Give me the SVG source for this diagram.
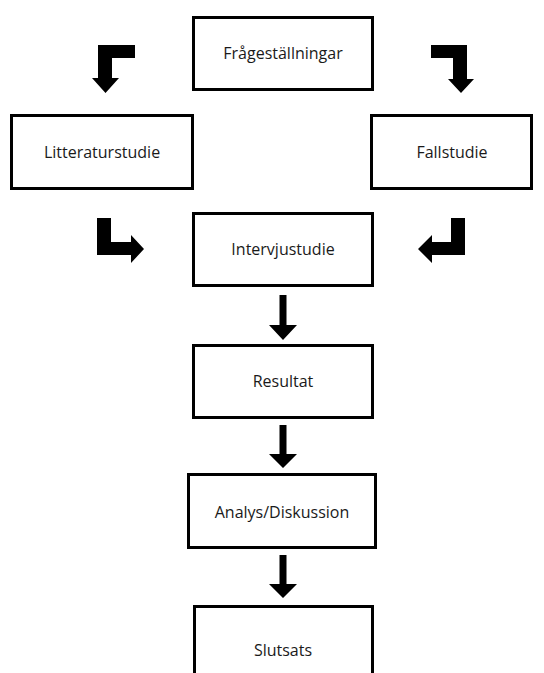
<svg xmlns="http://www.w3.org/2000/svg" width="544" height="673" viewBox="0 0 544 673">
<style>
.box{fill:#fff;stroke:#000;stroke-width:3}
.lbl{font-family:"Open Sans","Liberation Sans",sans-serif;font-size:16px;fill:#1a1a1a;text-anchor:middle}
.arr{fill:#000;stroke:none}
</style>
<rect width="544" height="673" fill="#fff"/>
<g id="connectors">
<path class="arr" d="M135,45 H98 V78 H92 L105.5,93 L119,78 H112 V58 H135 Z"/>
<path class="arr" d="M431,45 H467 V79 H474 L461,93 L448,79 H453 V58 H431 Z"/>
<path class="arr" d="M97,218 H111 V242 H131 V235 L144,249 L131,263 V255 H97 Z"/>
<path class="arr" d="M465,218 H451 V242 H432 V235 L418,249 L432,263 V255 H465 Z"/>
<path class="arr" d="M279.5,295 H286.5 V325 H297 L283,340 L269,325 H279.5 Z"/>
<path class="arr" d="M279.5,425 H286.5 V454 H297 L283,468 L269,454 H279.5 Z"/>
<path class="arr" d="M279.5,555 H286.5 V584 H297 L283,598 L269,584 H279.5 Z"/>
</g>
<g id="fragestallningar"><rect class="box" x="193.5" y="17.5" width="179" height="72"/><text class="lbl" x="283" y="59">Frågeställningar</text></g>
<g id="litteraturstudie"><rect class="box" x="11.5" y="115.5" width="181" height="73"/><text class="lbl" x="102" y="157.5">Litteraturstudie</text></g>
<g id="fallstudie"><rect class="box" x="371.5" y="115.5" width="160" height="73"/><text class="lbl" x="452" y="157.5">Fallstudie</text></g>
<g id="intervjustudie"><rect class="box" x="193.5" y="213.5" width="179" height="72"/><text class="lbl" x="283" y="255">Intervjustudie</text></g>
<g id="resultat"><rect class="box" x="193.5" y="345.5" width="179" height="72"/><text class="lbl" x="283" y="387">Resultat</text></g>
<g id="analys"><rect class="box" x="188.5" y="474.5" width="187" height="73"/><text class="lbl" x="282" y="518">Analys/Diskussion</text></g>
<g id="slutsats"><rect class="box" x="194.5" y="606.5" width="178" height="80"/><text class="lbl" x="283" y="656">Slutsats</text></g>
</svg>
